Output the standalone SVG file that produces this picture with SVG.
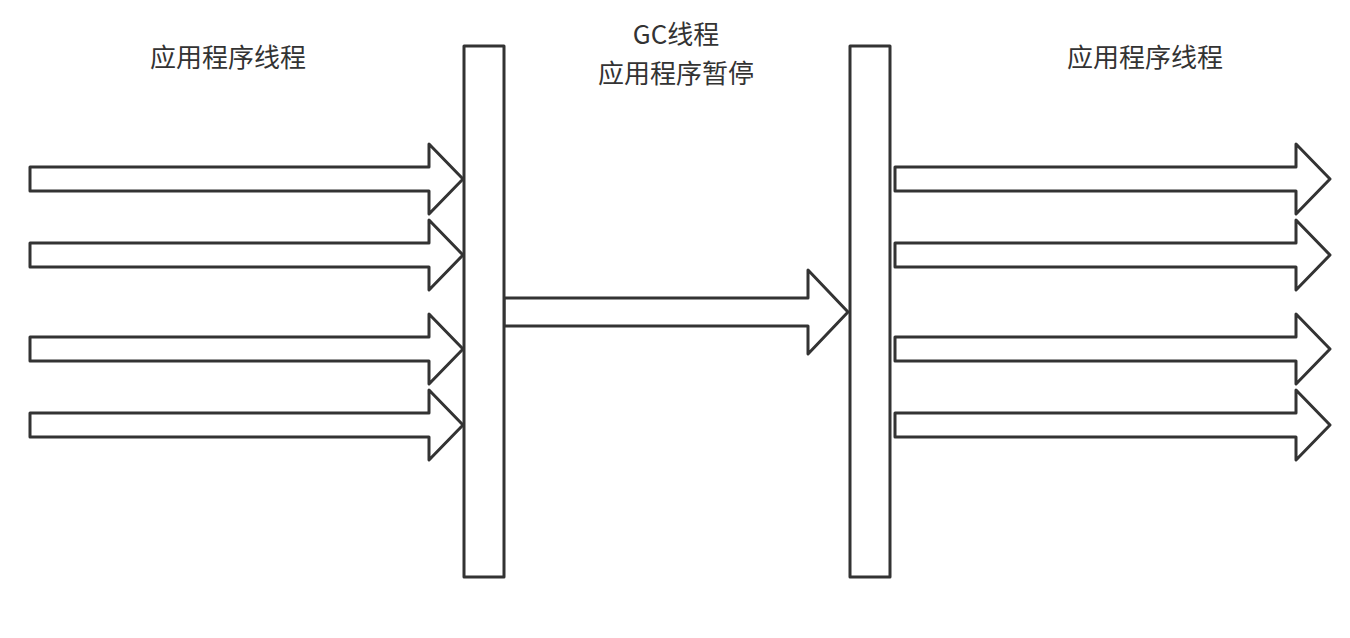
<svg xmlns="http://www.w3.org/2000/svg" width="1350" height="638" viewBox="0 0 1350 638">
<style>
.s{fill:#fff;stroke:#333;stroke-width:3;stroke-linejoin:round}
.t{font-family:"Noto Sans CJK SC","Liberation Sans",sans-serif;font-size:26px;fill:#333;text-anchor:middle}
</style>
<defs>
<path id="la" class="s" d="M30,-12 H429 V-35 L463,0 L429,35 V12 H30 Z"/>
<path id="ra" class="s" d="M895,-12 H1296 V-35 L1330,0 L1296,35 V12 H895 Z"/>
</defs>
<rect width="1350" height="638" fill="#fff"/>
<g id="connectors">
<use href="#la" y="179"/>
<use href="#la" y="255"/>
<use href="#la" y="349"/>
<use href="#la" y="425"/>
<use href="#ra" y="179"/>
<use href="#ra" y="255"/>
<use href="#ra" y="349"/>
<use href="#ra" y="425"/>
<path class="s" d="M504,298 H808 V270 L848,312 L808,354 V326 H504 Z"/>
</g>
<g id="bar1"><rect class="s" x="464" y="46" width="40" height="531"/></g>
<g id="bar2"><rect class="s" x="850" y="46" width="40" height="531"/></g>
<g id="label-left"><text class="t" x="228" y="67">应用程序线程</text></g>
<g id="label-mid"><text class="t" x="676" y="44">GC线程</text><text class="t" x="676" y="83">应用程序暂停</text></g>
<g id="label-right"><text class="t" x="1145" y="67">应用程序线程</text></g>
</svg>
